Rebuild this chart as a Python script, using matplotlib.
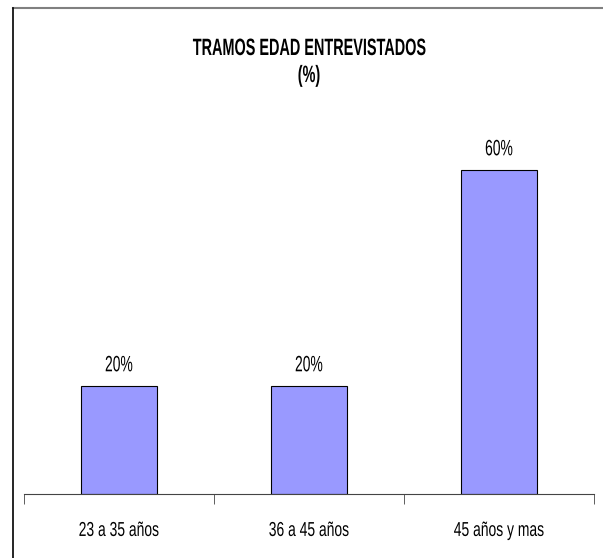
import matplotlib.pyplot as plt
import numpy as np
from matplotlib.lines import Line2D
from matplotlib.patheffects import AbstractPathEffect
from matplotlib.transforms import Affine2D

categories = ["23 a 35 años", "36 a 45 años", "45 años y mas"]
values = [20, 20, 60]
title_lines = ["TRAMOS EDAD ENTREVISTADOS", "(%)"]

plt.rcParams['font.family'] = ['Liberation Sans', 'DejaVu Sans']


class Stretch(AbstractPathEffect):
    # the original uses a tall narrow font: stretch glyphs up from the baseline
    def __init__(self, sx=1.0, sy=1.0):
        super().__init__()
        self.sx, self.sy = sx, sy

    def draw_path(self, renderer, gc, tpath, affine, rgbFace=None):
        ext = tpath.get_extents()
        cx = (ext.x0 + ext.x1) / 2
        a = Affine2D().translate(-cx, 0).scale(self.sx, self.sy).translate(cx, 0) + affine
        renderer.draw_path(gc, tpath, a, rgbFace)


W, H = 603, 558
fig = plt.figure(figsize=(W / 100, H / 100), dpi=100)
ax = fig.add_axes([24 / W, 64 / H, 570 / W, 378 / H])

x = np.arange(len(categories))
bars = ax.bar(x, values, width=0.405, color="#9999ff", edgecolor="black", linewidth=0.8)
for b, v in zip(bars, values):
    ax.annotate(f"{v}%", (b.get_x() + b.get_width() / 2, v), xytext=(0, 10.6),
                textcoords="offset points", ha="center", va="baseline", fontsize=10,
                path_effects=[Stretch(1.0, 1.6)])

ax.set_xlim(-0.5, len(categories) - 0.5)
ax.set_ylim(0, 70)
for s in ["top", "right", "left"]:
    ax.spines[s].set_visible(False)
ax.spines["bottom"].set_color("#444444")
ax.set_yticks([])
ax.set_xticks(np.arange(len(categories) + 1) - 0.5, minor=True)
ax.set_xticks(x)
ax.set_xticklabels(categories, fontsize=10, va="baseline")
for lab in ax.get_xticklabels():
    lab.set_path_effects([Stretch(1.0, 1.45)])
ax.tick_params(axis="x", which="major", length=0, pad=30.2)
ax.tick_params(axis="x", which="minor", length=7.2, color="#444444", direction="out")

# title, two lines, centred over the plot area
tx = (24 + 570 / 2) / W
fig.text(tx, 1 - 55 / H, title_lines[0], ha="center", va="baseline", fontsize=10,
         fontweight="bold", path_effects=[Stretch(1.04, 1.7)])
fig.text(tx, 1 - 82 / H, title_lines[1], ha="center", va="baseline", fontsize=10,
         fontweight="bold", path_effects=[Stretch(1.04, 1.7)])

# outer frame (only top and left are inside the picture)
fig.add_artist(Line2D([13 / W, 1], [1 - 8 / H, 1 - 8 / H], color="#808080", lw=1.5))
fig.add_artist(Line2D([13 / W, 13 / W], [0, 1 - 8 / H], color="black", lw=1.2))

fig.savefig("out.png", dpi=100)
